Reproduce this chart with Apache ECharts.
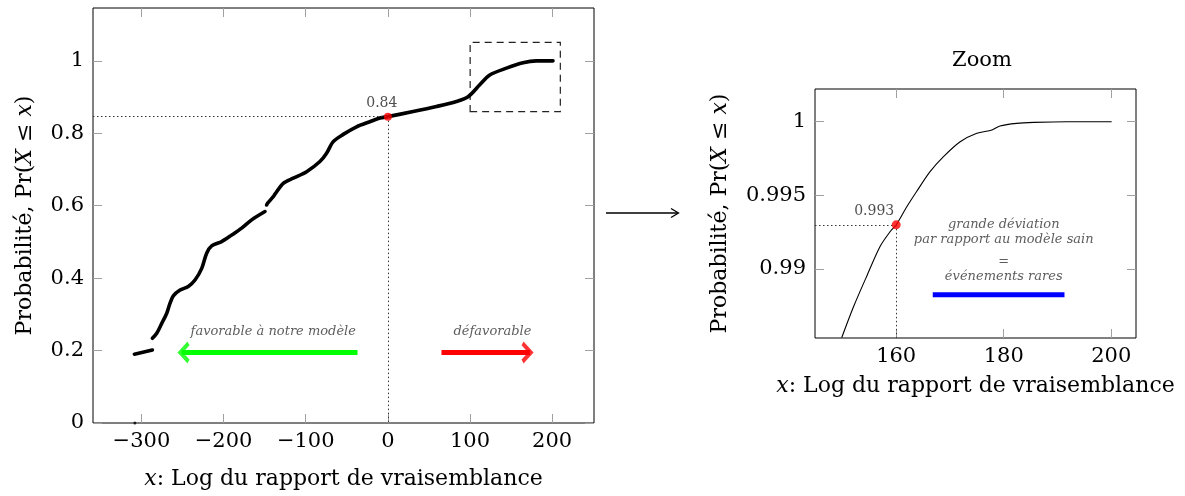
<!DOCTYPE html>
<html>
<head>
<meta charset="utf-8">
<script src="https://cdn.jsdelivr.net/npm/echarts@6/dist/echarts.min.js"></script>
<style>html,body{margin:0;padding:0;background:#fff}#c{width:1185px;height:496px}</style>
</head>
<body>
<div id="c"></div>
<script>
// ---------- data ----------
const leftXTicks = [-300, -200, -100, 0, 100, 200];
const leftYTicks = [0, 0.2, 0.4, 0.6, 0.8, 1];
const rightXTicks = [160, 180, 200];
const rightYTicks = [0.99, 0.995, 1];

const leftSeg1 = [[-308.6, 0.190], [-286.7, 0.2017]];
const leftSeg2 = [[-286.7, 0.234], [-281.4, 0.248], [-275.3, 0.275], [-269.2, 0.303], [-265.2, 0.331], [-261.2, 0.351],
  [-253, 0.367], [-243, 0.377], [-234.8, 0.395], [-226.6, 0.427], [-220.6, 0.469], [-214.5, 0.489], [-202.3, 0.501],
  [-190.1, 0.519], [-178, 0.538], [-165.8, 0.561], [-149.6, 0.584]];
const leftSeg3 = [[-147.6, 0.602], [-146.4, 0.607], [-139.5, 0.625], [-137.5, 0.632], [-127.3, 0.662], [-115.2, 0.676],
  [-98.9, 0.694], [-82.7, 0.722], [-74.6, 0.745], [-66.5, 0.777], [-54.3, 0.797], [-38.1, 0.818], [-21.9, 0.832],
  [-9.7, 0.842], [0, 0.846], [30.8, 0.860], [59.2, 0.874], [83.5, 0.888], [97.7, 0.901], [111.9, 0.934], [124.1, 0.961],
  [144.4, 0.980], [164.6, 0.995], [180.9, 1.0], [201.1, 1.0]];
const leftIsolated = [[-308, 0.0]];
const leftPoint = [[0, 0.846]];
const leftPointLabel = '0.84';
const zoomBox = [[100.2, 0.86], [210, 1.051]];
const greenArrowShaft = [[-36.9, 0.195], [-251, 0.195]];
const greenArrowHead = [[-248.8, 0.195]];
const redArrowShaft = [[65.3, 0.195], [173, 0.195]];
const redArrowHead = [[170.1, 0.195]];
const leftAnnoText = ['favorable à notre modèle', 'défavorable'];
const leftAnnoPos = [[-139.5, 0.252], [127.3, 0.252]];

const rightCurve = [[149.9, 0.98537], [152.1, 0.98747], [154.5, 0.98950], [157, 0.99153], [158.9, 0.99255],
  [160, 0.9930], [162, 0.99424], [163.8, 0.99526], [166.3, 0.99661], [168.8, 0.99763], [171.9, 0.99864],
  [175, 0.99921], [177.8, 0.99944], [179.3, 0.99971], [182.4, 0.99989], [185.6, 0.999955], [191.8, 1.0], [200, 1.0]];
const rightPoint = [[160, 0.993]];
const rightPointLabel = '0.993';
const blueBar = [[166.8, 0.98826], [191.3, 0.98826]];
const rightAnnoText = ['grande déviation', 'par rapport au modèle sain', '=', 'événements rares'];
const rightAnnoPos = [[180, 0.99299], [180, 0.99202], [180, 0.99050], [180, 0.98948]];

// ---------- config ----------
const SERIF = '"DejaVu Serif", serif';
const LX = [-359, 251], LY = [0, 1.146];
const RX = [144.9, 204.6], RY = [0.98532, 1.00222];
const chevron = 'path://M0,10 L10,0 L20,10 L16.5,12 L10,5.5 L3.5,12 Z';
const fmtX = v => v < 0 ? '\u2212' + (-v) : String(v);

function axisPair(kind, grid, range, ticks, fmt, name, nameGap) {
  const tick = { inside: true, length: 9, lineStyle: { color: '#a0a0a0', width: 1 }, customValues: ticks };
  const main = {
    type: 'value', gridIndex: grid, min: range[0], max: range[1],
    position: kind === 'x' ? 'bottom' : 'left',
    axisLine: { show: false, onZero: false }, splitLine: { show: false }, axisTick: tick,
    axisLabel: { customValues: ticks, formatter: fmt, fontFamily: SERIF, fontSize: 21, color: '#000', margin: kind === 'x' ? 8 : 9 },
    name: name, nameLocation: 'middle', nameGap: nameGap,
    nameTextStyle: { fontFamily: SERIF, fontSize: 22, color: '#000', rich: { i: { fontFamily: SERIF, fontStyle: 'italic', fontSize: 22, color: '#000' } } }
  };
  if (kind === 'y') main.nameRotate = 90;
  const mirror = {
    type: 'value', gridIndex: grid, min: range[0], max: range[1],
    position: kind === 'x' ? 'top' : 'right',
    axisLine: { show: false, onZero: false }, splitLine: { show: false }, axisTick: tick, axisLabel: { show: false }
  };
  return [main, mirror];
}

const [lx0, lx1] = axisPair('x', 0, LX, leftXTicks, fmtX, '{i|x}: Log du rapport de vraisemblance', 45);
const [ly0, ly1] = axisPair('y', 0, LY, leftYTicks, v => String(v), 'Probabilité, Pr({i|X} ≤ {i|x})', 57);
const [rx0, rx1] = axisPair('x', 1, RX, rightXTicks, fmtX, '{i|x}: Log du rapport de vraisemblance', 37);
const [ry0, ry1] = axisPair('y', 1, RY, rightYTicks, v => String(v), 'Probabilité, Pr({i|X} ≤ {i|x})', 84);

const blackLine = (data, xi, yi, w) => ({
  type: 'line', xAxisIndex: xi, yAxisIndex: yi, data: data, showSymbol: false, symbol: 'none', smooth: 0.3,
  lineStyle: { color: '#000', width: w, cap: 'round', join: 'round' }, silent: true, z: 3
});

const annoSeries = (texts, pos, xi, yi, size) => ({
  type: 'scatter', xAxisIndex: xi, yAxisIndex: yi, symbol: 'circle', symbolSize: 1, silent: true, z: 5,
  itemStyle: { color: 'rgba(0,0,0,0)' },
  data: pos.map((p, i) => ({ value: p, label: { formatter: texts[i] } })),
  label: { show: true, position: 'inside', fontFamily: SERIF, fontStyle: 'italic', fontSize: size, color: '#333' }
});

const option = {
  animation: false,
  backgroundColor: '#fff',
  title: { text: 'Zoom', left: 977, top: 45, textAlign: 'center', textStyle: { fontFamily: SERIF, fontSize: 21, fontWeight: 'normal', color: '#000' } },
  grid: [
    { left: 93, top: 8, width: 501, height: 415, show: true, borderColor: '#000', borderWidth: 1, backgroundColor: 'transparent' },
    { left: 815, top: 89, width: 321, height: 249, show: true, borderColor: '#000', borderWidth: 1, backgroundColor: 'transparent' }
  ],
  xAxis: [lx0, lx1, rx0, rx1],
  yAxis: [ly0, ly1, ry0, ry1],
  graphic: [
    { type: 'line', shape: { x1: 606, y1: 213, x2: 678, y2: 213 }, style: { stroke: '#000', lineWidth: 1.3 } },
    { type: 'polyline', shape: { points: [[671, 208.5], [678.5, 213], [671, 217.5]] }, style: { stroke: '#000', lineWidth: 1.3, fill: null } }
  ],
  series: [
    {
      type: 'line', xAxisIndex: 0, yAxisIndex: 0, data: [], silent: true,
      markLine: {
        silent: true, symbol: 'none', label: { show: false },
        lineStyle: { type: [1.5, 2.5], color: '#333', width: 1 },
        data: [
          [{ coord: [LX[0], leftPoint[0][1]] }, { coord: leftPoint[0] }],
          [{ coord: leftPoint[0] }, { coord: [leftPoint[0][0], 0] }]
        ]
      },
      markArea: {
        silent: true,
        itemStyle: { color: 'rgba(0,0,0,0)', borderColor: '#222', borderWidth: 1.2, borderType: [7, 5] },
        data: [[{ coord: zoomBox[0] }, { coord: zoomBox[1] }]]
      }
    },
    blackLine(leftSeg1, 0, 0, 3.6),
    blackLine(leftSeg2, 0, 0, 3.6),
    blackLine(leftSeg3, 0, 0, 3.6),
    { type: 'scatter', xAxisIndex: 0, yAxisIndex: 0, data: leftIsolated, symbol: 'circle', symbolSize: 3, itemStyle: { color: '#000' }, silent: true },
    { type: 'line', xAxisIndex: 0, yAxisIndex: 0, data: greenArrowShaft, symbol: 'none', lineStyle: { color: '#00ff00', width: 5, cap: 'butt' }, silent: true },
    { type: 'scatter', xAxisIndex: 0, yAxisIndex: 0, data: greenArrowHead, symbol: chevron, symbolSize: [22, 12], symbolRotate: 90, itemStyle: { color: '#00ff00' }, silent: true },
    { type: 'line', xAxisIndex: 0, yAxisIndex: 0, data: redArrowShaft, symbol: 'none', lineStyle: { color: '#ff0000', width: 5, cap: 'butt' }, silent: true },
    { type: 'scatter', xAxisIndex: 0, yAxisIndex: 0, data: redArrowHead, symbol: chevron, symbolSize: [22, 12], symbolRotate: -90, itemStyle: { color: '#ff0000' }, silent: true },
    annoSeries(leftAnnoText, leftAnnoPos, 0, 0, 13),
    {
      type: 'scatter', xAxisIndex: 0, yAxisIndex: 0, data: leftPoint, symbol: 'circle', symbolSize: 8, z: 6,
      itemStyle: { color: '#ff0000' }, silent: true,
      label: { show: true, formatter: leftPointLabel, position: 'top', offset: [-6, 0], distance: 2, fontFamily: SERIF, fontSize: 14, color: '#222' }
    },
    {
      type: 'line', xAxisIndex: 2, yAxisIndex: 2, data: [], silent: true,
      markLine: {
        silent: true, symbol: 'none', label: { show: false },
        lineStyle: { type: [1.5, 2.5], color: '#333', width: 1 },
        data: [
          [{ coord: [RX[0], rightPoint[0][1]] }, { coord: rightPoint[0] }],
          [{ coord: rightPoint[0] }, { coord: [rightPoint[0][0], RY[0]] }]
        ]
      }
    },
    blackLine(rightCurve, 2, 2, 1.1),
    { type: 'line', xAxisIndex: 2, yAxisIndex: 2, data: blueBar, symbol: 'none', lineStyle: { color: '#0000ff', width: 5, cap: 'butt' }, silent: true },
    annoSeries(rightAnnoText, rightAnnoPos, 2, 2, 13),
    {
      type: 'scatter', xAxisIndex: 2, yAxisIndex: 2, data: rightPoint, symbol: 'circle', symbolSize: 9, z: 6,
      itemStyle: { color: '#ff0000' }, silent: true,
      label: { show: true, formatter: rightPointLabel, position: 'top', offset: [-22, 0], distance: 2, fontFamily: SERIF, fontSize: 14, color: '#222' }
    }
  ]
};

const chart = echarts.init(document.getElementById('c'), null, { renderer: 'canvas' });
chart.setOption(option);
</script>
</body>
</html>
